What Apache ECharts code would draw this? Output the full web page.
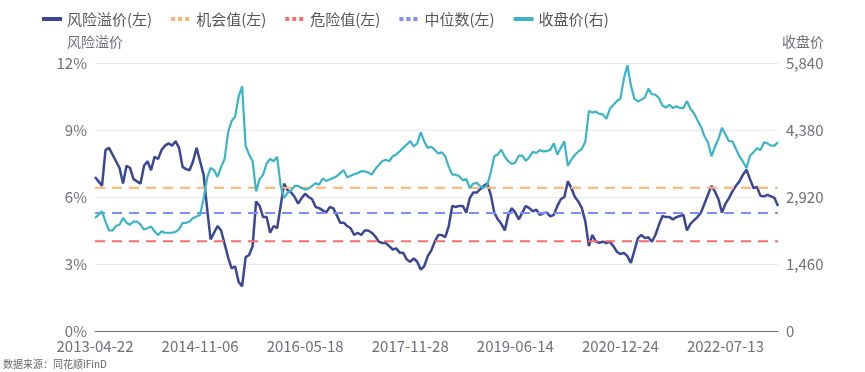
<!DOCTYPE html>
<html><head><meta charset="utf-8">
<script src="https://cdn.jsdelivr.net/npm/echarts@6/dist/echarts.min.js"></script>
<style>html,body{margin:0;padding:0;background:#fff}#c{width:865px;height:372px}</style>
</head><body><div id="c"></div>
<script>
// Label dates shown on the x axis (every 30th category) and the last date
const labelDates = ['2013-04-22','2014-11-06','2016-05-18','2017-11-28','2019-06-14','2020-12-24','2022-07-13'];
const endDate = '2023-04-28';
const stepsPerLabel = 30;

// 风险溢价 (%)
const riskPremium = [
6.9,6.7,6.5,8.1,8.2,7.9,7.6,7.3,6.6,7.4,
7.3,6.8,6.7,6.6,7.4,7.6,7.2,7.8,7.7,8.1,
8.3,8.4,8.3,8.5,8.2,7.35,7.25,7.2,7.6,8.2,
7.6,7.0,5.5,4.1,4.4,4.7,4.5,3.9,3.3,2.8,
2.9,2.2,2.0,3.3,3.4,3.8,5.8,5.6,5.1,5.1,
4.4,4.7,4.6,5.6,6.6,6.3,6.2,6.0,5.7,5.95,
6.15,6.0,5.9,5.55,5.5,5.4,5.3,5.55,5.5,5.2,
4.85,4.85,4.7,4.6,4.3,4.4,4.3,4.5,4.5,4.4,
4.24,4.0,3.94,3.94,3.8,3.65,3.7,3.5,3.5,3.2,
3.1,3.25,3.1,2.75,2.9,3.35,3.6,4.0,4.3,4.3,
4.2,4.7,5.6,5.55,5.6,5.6,5.3,5.95,6.2,6.2,
6.35,6.5,6.6,6.1,5.3,5.0,4.8,4.5,5.2,5.5,
5.3,5.0,5.3,5.6,5.5,5.36,5.43,5.2,5.28,5.3,
5.13,5.2,5.6,5.9,6.0,6.7,6.4,6.0,5.8,5.5,
4.9,3.8,4.3,4.0,3.95,4.0,3.94,4.0,3.8,3.55,
3.45,3.5,3.35,3.05,3.6,4.16,4.3,4.16,4.2,4.0,
4.3,4.75,5.15,5.1,5.1,5.0,5.1,5.15,5.2,4.5,
4.8,4.95,5.1,5.3,5.7,6.1,6.5,6.25,5.9,5.3,
5.7,5.95,6.25,6.5,6.7,7.0,7.22,6.8,6.4,6.45,
6.05,6.03,6.1,6.03,5.96,5.6
];

// 收盘价
const closePrice = [
2463,2531,2608,2385,2190,2190,2287,2317,2463,2360,
2317,2385,2385,2317,2210,2239,2278,2171,2093,2171,
2141,2141,2141,2161,2214,2355,2355,2385,2463,2497,
2531,2871,3334,3553,3504,3358,3577,3747,4331,4575,
4672,5100,5330,4040,3845,3699,3042,3309,3407,3650,
3747,3699,3796,3163,2901,3008,3066,3163,3163,3115,
3081,3105,3163,3222,3188,3324,3270,3300,3334,3373,
3441,3504,3348,3382,3416,3441,3480,3480,3455,3407,
3528,3616,3699,3733,3699,3806,3845,3918,3991,4064,
4137,4025,4088,4331,4127,3991,4015,3952,3869,3893,
3806,3577,3407,3407,3373,3285,3309,3115,3212,3227,
3154,3115,3188,3455,3806,3845,3952,3796,3699,3640,
3674,3820,3820,3708,3786,3903,3879,3942,3913,3918,
3952,4088,3845,3991,4132,3601,3733,3835,3913,3966,
4132,4794,4760,4779,4730,4721,4623,4842,4925,5013,
5061,5499,5790,5353,5061,5003,5042,5086,5280,5159,
5149,5076,4915,4867,4930,4857,4896,4857,4857,5013,
4842,4745,4594,4453,4244,4112,3806,4015,4185,4429,
4283,4137,4132,3966,3806,3689,3553,3820,3893,3981,
3942,4112,4088,4039,4039,4112
];

// Reference levels (%)
const opportunityLevel = 6.41;
const dangerLevel = 4.02;
const medianLevel = 5.28;

const leftTicks = [0, 3, 6, 9, 12];
const rightTicks = [0, 1460, 2920, 4380, 5840];

// Build category dates (only every 30th is shown)
function fmt(d){const p=n=>String(n).padStart(2,'0');return d.getUTCFullYear()+'-'+p(d.getUTCMonth()+1)+'-'+p(d.getUTCDate());}
const anchors = labelDates.concat([endDate]).map(s=>new Date(s+'T00:00:00Z').getTime());
const categories = [];
for (let s = 0; s < anchors.length - 1; s++) {
  const steps = (s === anchors.length - 2) ? (riskPremium.length - 1 - stepsPerLabel * s) : stepsPerLabel;
  for (let k = 0; k < steps; k++) {
    if (k === 0) categories.push(labelDates[s]);
    else categories.push(fmt(new Date(anchors[s] + (anchors[s+1]-anchors[s]) * k / steps)));
  }
}
categories.push(endDate);

const C_RISK = '#3b4795', C_CLOSE = '#3ab4c8', C_OPP = '#ffb26e', C_DANGER = '#f86d6d', C_MED = '#7d8dfb';
const FONT = '"Noto Sans CJK SC", "Noto Sans", sans-serif';
const ICON_SOLID = 'path://M0,0H20V4H0Z';
const ICON_DOTS = 'path://M0,0H4V4H0Z M7,0H11V4H7Z M14,0H18V4H14Z M20,0H20V4H20Z';

const chart = echarts.init(document.getElementById('c'), null, {renderer: 'canvas'});
const constLine = v => categories.map(() => v);
chart.setOption({
  animation: false,
  textStyle: {fontFamily: FONT},
  legend: {
    left: 37, top: 3, itemWidth: 20, itemHeight: 4, itemGap: 19,
    textStyle: {fontSize: 15, color: '#555', fontFamily: FONT, lineHeight: 22},
    data: [
      {name: '风险溢价(左)', icon: ICON_SOLID},
      {name: '机会值(左)', icon: ICON_DOTS},
      {name: '危险值(左)', icon: ICON_DOTS},
      {name: '中位数(左)', icon: ICON_DOTS},
      {name: '收盘价(右)', icon: ICON_SOLID}
    ]
  },
  grid: {left: 95, right: 87, top: 63, bottom: 41},
  xAxis: {
    type: 'category', data: categories, boundaryGap: false,
    axisLine: {lineStyle: {color: '#6e7079'}},
    axisTick: {show: false},
    axisLabel: {interval: stepsPerLabel - 1, fontSize: 15, color: '#6e7079', margin: 8, fontFamily: FONT}
  },
  yAxis: [
    {
      type: 'value', min: leftTicks[0], max: leftTicks[leftTicks.length-1], interval: 3,
      name: '风险溢价', nameGap: 14,
      nameTextStyle: {fontSize: 14, color: '#6e7079', fontFamily: FONT},
      axisLabel: {formatter: '{value}%', fontSize: 15, color: '#6e7079', fontFamily: FONT},
      splitLine: {lineStyle: {color: '#e6e8f2'}}
    },
    {
      type: 'value', min: rightTicks[0], max: rightTicks[rightTicks.length-1], interval: 1460,
      name: '收盘价', nameGap: 14,
      nameTextStyle: {fontSize: 14, color: '#6e7079', padding: [0, 0, 0, 50], fontFamily: FONT},
      axisLabel: {formatter: v => v.toLocaleString('en-US'), fontSize: 15, color: '#6e7079', fontFamily: FONT},
      splitLine: {show: false}
    }
  ],
  series: [
    {name: '风险溢价(左)', type: 'line', yAxisIndex: 0, data: riskPremium, showSymbol: false, symbol: 'none',
     lineStyle: {color: C_RISK, width: 2.5}, itemStyle: {color: C_RISK}},
    {name: '机会值(左)', type: 'line', yAxisIndex: 0, data: constLine(opportunityLevel), showSymbol: false, symbol: 'none',
     lineStyle: {color: C_OPP, width: 2, type: [10, 7]}, itemStyle: {color: C_OPP}},
    {name: '危险值(左)', type: 'line', yAxisIndex: 0, data: constLine(dangerLevel), showSymbol: false, symbol: 'none',
     lineStyle: {color: C_DANGER, width: 2, type: [10, 7]}, itemStyle: {color: C_DANGER}},
    {name: '中位数(左)', type: 'line', yAxisIndex: 0, data: constLine(medianLevel), showSymbol: false, symbol: 'none',
     lineStyle: {color: C_MED, width: 2, type: [10, 7]}, itemStyle: {color: C_MED}},
    {name: '收盘价(右)', type: 'line', yAxisIndex: 1, data: closePrice, showSymbol: false, symbol: 'none',
     lineStyle: {color: C_CLOSE, width: 2.2}, itemStyle: {color: C_CLOSE}}
  ],
  graphic: [{
    type: 'text', left: 3, top: 359,
    style: {text: '数据来源：同花顺iFinD', fontSize: 10, fill: '#666', fontFamily: FONT}
  }]
});
</script></body></html>
